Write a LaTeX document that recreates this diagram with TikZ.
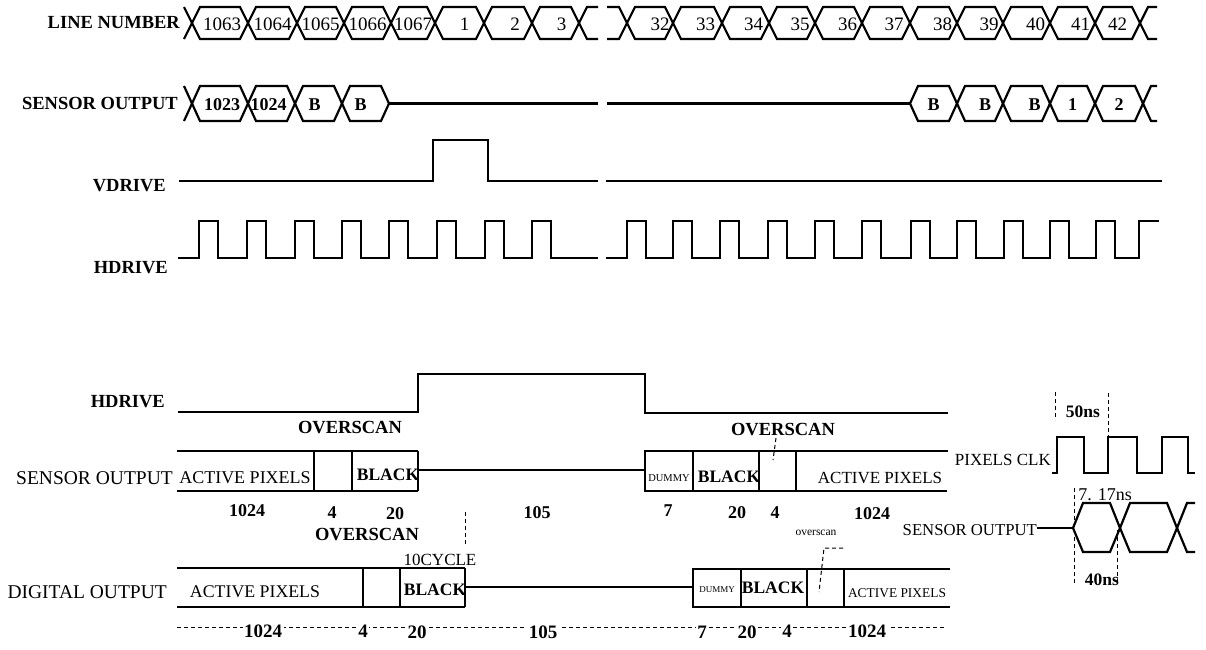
\documentclass[tikz,border=0pt]{standalone}
\usepackage{fontspec}
\setmainfont{Liberation Serif}
\begin{document}
\begin{tikzpicture}[x=1pt,y=-1pt,line join=miter]
\useasboundingbox (0,0) rectangle (1206,649);
\tikzset{
  sig/.style={line width=2.2pt},
  thin sig/.style={line width=1.8pt},
  dim/.style={line width=1pt,dash pattern=on 4pt off 3pt},
  lab/.style={font=\bfseries\fontsize{18.5}{18.5}\selectfont,anchor=east,inner sep=0pt},
  rlab/.style={font=\fontsize{19.5}{19.5}\selectfont,anchor=east,inner sep=0pt},
  hexnum/.style={font=\fontsize{19}{19}\selectfont,inner sep=0pt},
  bnum/.style={font=\bfseries\fontsize{18}{18}\selectfont,inner sep=0pt},
  dnum/.style={font=\bfseries\fontsize{19}{19}\selectfont,inner sep=1.5pt,fill=white},
  cell/.style={font=\fontsize{#1}{#1}\selectfont,inner sep=0pt},
  bcell/.style={font=\bfseries\fontsize{#1}{#1}\selectfont,inner sep=0pt},
}
% ---------------- top section ----------------
\node[lab] (lnum) at (180,23) {LINE NUMBER};
\node[lab] (sout) at (178,103) {SENSOR OUTPUT};
\node[lab] (vdr) at (166,186) {VDRIVE};
\node[lab] (hdr) at (168,268) {HDRIVE};

% LINE NUMBER bus
\def\yt{7}\def\yb{39}\def\ym{23}
\draw[sig] (184,\yt)--(192,\ym)--(184,\yb);
\foreach \a/\b/\t/\o [count=\i] in {192/248/1063/2,248/297/1064/0,297/344/1065/0,344/391/1066/0,391/435/1067/0,
  435/484/1/5,484/532/2/7,532/579/3/6,627/673/32/10,673/722/33/8,722/769/34/8,769/815/35/8,815/862/36/9,
  862/910/37/8,910/957/38/9,957/1003/39/9,1003/1050/40/9,1050/1095/41/8,1095/1140/42/0}{
  \draw[sig] (\a,\ym)--(\a+8,\yt)--(\b-8,\yt)--(\b,\ym)--(\b-8,\yb)--(\a+8,\yb)--cycle;
  \node[hexnum] (ln\i) at ({(\a+\b)/2+\o},\ym+1) {\t};
}
\draw[sig] (598,\yt)--(587,\yt)--(579,\ym)--(587,\yb)--(598,\yb);
\draw[sig] (607,\yt)--(619,\yt)--(627,\ym)--(619,\yb)--(607,\yb);
\draw[sig] (1157,\yt)--(1148,\yt)--(1140,\ym)--(1148,\yb)--(1157,\yb);

% SENSOR OUTPUT bus
\def\st{86}\def\sb{121}\def\sm{103.5}
\draw[sig] (184,\st)--(192,\sm)--(184,\sb);
\foreach \a/\b/\t/\o [count=\i] in {192/248/1023/2,248/295/1024/-3,295/342/B/-4,342/389/B/-5,
  910/957/B/0,957/1003/B/5,1003/1050/B/8,1050/1095/1/0,1095/1143/2/0}{
  \draw[sig] (\a,\sm)--(\a+8,\st)--(\b-8,\st)--(\b,\sm)--(\b-8,\sb)--(\a+8,\sb)--cycle;
  \node[bnum] (so\i) at ({(\a+\b)/2+\o},\sm+1) {\t};
}
\draw[sig] (389,\sm)--(598,\sm);
\draw[sig] (607,\sm)--(910,\sm);
\draw[sig] (1157,\st)--(1151,\st)--(1143,\sm)--(1151,\sb)--(1157,\sb);

% VDRIVE
\draw[sig] (179,181)--(433,181)--(433,140)--(488,140)--(488,181)--(598,181);
\draw[sig] (606,181)--(1162,181);

% HDRIVE
\draw[sig] (178,258) foreach \r in {199,247,295,342,389,437,485,532}{--(\r,258)--(\r,221)--(\r+19,221)--(\r+19,258)} --(598,258);
\draw[sig] (606,258) foreach \r in {627,673,720,768,815,862,911,957,1004,1050,1096}{--(\r,258)--(\r,221)--(\r+19,221)--(\r+19,258)} --(1139,258)--(1139,221)--(1159,221);

% ---------------- lower section ----------------
\node[lab] (hdr2) at (165,402) {HDRIVE};
\draw[sig] (178,412)--(418,412)--(418,374)--(645,374)--(645,413)--(948,413);

\node[rlab] (sout2) at (173,478) {SENSOR OUTPUT};
\node[bcell=18.5] (ov1) at (350,428) {OVERSCAN};
\draw[sig] (177,451)--(418,451);
\draw[sig] (177,491)--(418,491);
\draw[thin sig] (314,451)--(314,491);
\draw[thin sig] (352,451)--(352,491);
\draw[sig] (418,451)--(418,491);
\draw[sig] (418,470)--(645,470);
\draw[sig] (948,451)--(645,451)--(645,491)--(947,491);
\draw[thin sig] (693,451)--(693,491);
\draw[thin sig] (759,451)--(759,491);
\draw[thin sig] (796,451)--(796,491);
\node[cell=18] (ap1) at (245,478) {ACTIVE PIXELS};
\node[bcell=17.5] (bk1) at (388,475) {BLACK};
\node[cell=10.5] (dm1) at (669,478) {DUMMY};
\node[bcell=17.5] (bk2) at (729,477) {BLACK};
\node[cell=17] (ap2) at (880,478) {ACTIVE PIXELS};
\node[bcell=18.5] (ov2) at (783,430) {OVERSCAN};
\draw[dim] (776,438)--(773,460);

\node[bnum] (n1) at (247,511) {1024};
\node[bnum] (n2) at (332,513) {4};
\node[bnum] (n3) at (395,514) {20};
\node[bnum] (n4) at (537,513) {105};
\node[bnum] (n5) at (668,511) {7};
\node[bnum] (n6) at (737,513) {20};
\node[bnum] (n7) at (775,513) {4};
\node[bnum] (n8) at (872,514) {1024};

% DIGITAL OUTPUT
\node[rlab] (dout) at (167,592) {DIGITAL OUTPUT};
\node[bcell=18.5] (ov3) at (367,535) {OVERSCAN};
\node[cell=17] (cyc) at (440,560) {10CYCLE};
\draw[dim] (465,512)--(465,545);
\draw[sig] (177,568)--(465,568);
\draw[sig] (177,607)--(465,607);
\draw[thin sig] (363,568)--(363,607);
\draw[thin sig] (400,568)--(400,607);
\draw[sig] (465,568)--(465,607);
\draw[sig] (465,587)--(693,587);
\draw[sig] (950,569)--(693,569)--(693,607)--(950,607);
\draw[thin sig] (741,569)--(741,607);
\draw[thin sig] (807,569)--(807,607);
\draw[thin sig] (844,569)--(844,607);
\node[cell=17.8] (ap3) at (255,592) {ACTIVE PIXELS};
\node[bcell=17.5] (bk3) at (435,590) {BLACK};
\node[cell=9] (dm2) at (717,590) {DUMMY};
\node[bcell=17.5] (bk4) at (773,588) {BLACK};
\node[cell=13.4] (ap4) at (897,593) {ACTIVE PIXELS};
\node[cell=11.5] (ovs) at (816,533) {overscan};
\draw[dim] (843,548)--(824,548)--(819,592);

\draw[dim] (177,627)--(945,627);
\node[dnum] (m1) at (263,631) {1024};
\node[dnum] (m2) at (363,631) {4};
\node[dnum] (m3) at (417,632) {20};
\node[dnum] (m4) at (543,632) {105};
\node[dnum] (m5) at (702,632) {7};
\node[dnum] (m6) at (747,632) {20};
\node[dnum] (m7) at (787,631) {4};
\node[dnum] (m8) at (867,631) {1024};

% ---------------- right timing ----------------
\node[cell=17,anchor=east] (pclk) at (1051,460) {PIXELS CLK};
\draw[sig] (1052,473)--(1057,473)--(1057,437)--(1084,437)--(1084,473)--(1108,473)--(1108,437)--(1137,437)--(1137,473)--(1162,473)--(1162,437)--(1188,437)--(1188,473)--(1195,473);
\draw[dim] (1055,392)--(1055,420);
\draw[dim] (1108,393)--(1108,437);
\node[bcell=17.5] (t50) at (1083,412) {50ns};

\node[cell=16.7,anchor=east] (sout3) at (1037,530) {SENSOR OUTPUT};
\draw[sig] (1037,528)--(1073,528);
\draw[sig] (1073,528)--(1083,503)--(1110,503)--(1120,528)--(1110,552)--(1083,552)--cycle;
\draw[sig] (1120,528)--(1130,503)--(1167,503)--(1177,528)--(1167,552)--(1130,552)--cycle;
\draw[sig] (1195,503)--(1187,503)--(1177,528)--(1187,552)--(1195,552);
\draw[dim] (1074,488)--(1074,585);
\draw[dim] (1117,530)--(1117,585);
\node[cell=18] (t717) at (1105,495) {7. 17ns};
\node[bcell=17.5] (t40) at (1102,580) {40ns};
\end{tikzpicture}
\end{document}
